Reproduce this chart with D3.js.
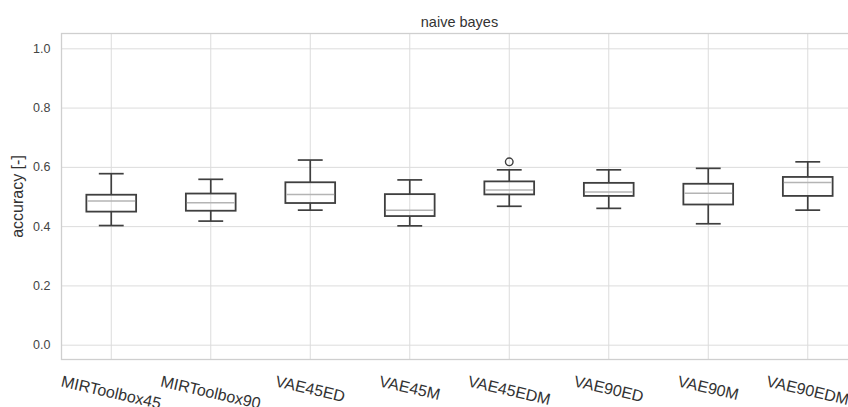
<!DOCTYPE html>
<html>
<head>
<meta charset="utf-8">
<script src="https://cdn.jsdelivr.net/npm/d3@7"></script>
<style>
  html, body { margin: 0; padding: 0; background: #fff; }
  svg { display: block; font-family: "Liberation Sans", Arial, sans-serif; }
</style>
</head>
<body>
<svg id="chart" width="848" height="407"></svg>
<script>
const categories = ["MIRToolbox45", "MIRToolbox90", "VAE45ED", "VAE45M", "VAE45EDM", "VAE90ED", "VAE90M", "VAE90EDM"];
const whiskerLow  = [0.402, 0.417, 0.454, 0.401, 0.467, 0.460, 0.408, 0.454];
const q1          = [0.449, 0.452, 0.478, 0.434, 0.507, 0.502, 0.473, 0.502];
const medians     = [0.485, 0.479, 0.507, 0.454, 0.522, 0.515, 0.511, 0.547];
const q3          = [0.506, 0.510, 0.548, 0.508, 0.551, 0.546, 0.543, 0.566];
const whiskerHigh = [0.577, 0.558, 0.623, 0.556, 0.590, 0.590, 0.595, 0.617];
const outliers    = [[], [], [], [], [0.617], [], [], []];
const yTicks = [0.0, 0.2, 0.4, 0.6, 0.8, 1.0];
const chartTitle = "naive bayes";
const yLabel = "accuracy [-]";

const svg = d3.select("#chart");
const pLeft = 61.5, pRight = 857.5, pTop = 33.5, pBottom = 359.5;

const x = d3.scaleBand().domain(categories).range([pLeft, pRight]).padding(0);
const y = d3.scaleLinear().domain([-0.05, 1.05]).range([pBottom, pTop]);
const bw = x.bandwidth();
const cx = c => x(c) + bw / 2;

const gridColor = "#dcdcdc";
const boxColor = "#3f3f3f";

// horizontal grid + y tick labels
const yAxis = d3.axisLeft(y).tickValues(yTicks).tickFormat(d3.format(".1f"))
  .tickSize(-(pRight - pLeft)).tickPadding(11);
const gy = svg.append("g").attr("transform", `translate(${pLeft},0)`).call(yAxis);
gy.select(".domain").remove();
gy.selectAll(".tick line").attr("stroke", gridColor).attr("stroke-width", 1);
gy.selectAll(".tick text").attr("fill", "#444").style("font-size", "12.5px")
  .style("font-family", "'Liberation Sans', Arial, sans-serif");

// vertical grid
const xAxis = d3.axisBottom(x).tickSize(-(pBottom - pTop)).tickFormat("");
const gx = svg.append("g").attr("transform", `translate(0,${pBottom})`).call(xAxis);
gx.select(".domain").remove();
gx.selectAll(".tick line").attr("stroke", gridColor).attr("stroke-width", 1);

// frame
svg.append("rect").attr("x", pLeft).attr("y", pTop)
  .attr("width", pRight - pLeft).attr("height", pBottom - pTop)
  .attr("fill", "none").attr("stroke", "#cfcfcf").attr("stroke-width", 1.3);

// boxes
const boxes = svg.append("g").selectAll("g").data(categories).join("g");
boxes.each(function(c, i) {
  const g = d3.select(this);
  const xc = cx(c);
  const hw = bw * 0.25, cw = bw * 0.125;
  g.append("line").attr("x1", xc).attr("x2", xc).attr("y1", y(q3[i])).attr("y2", y(whiskerHigh[i]))
    .attr("stroke", boxColor).attr("stroke-width", 1.7);
  g.append("line").attr("x1", xc).attr("x2", xc).attr("y1", y(q1[i])).attr("y2", y(whiskerLow[i]))
    .attr("stroke", boxColor).attr("stroke-width", 1.7);
  [whiskerHigh[i], whiskerLow[i]].forEach(v => {
    g.append("line").attr("x1", xc - cw).attr("x2", xc + cw).attr("y1", y(v)).attr("y2", y(v))
      .attr("stroke", boxColor).attr("stroke-width", 1.7);
  });
  g.append("rect").attr("x", xc - hw).attr("y", y(q3[i]))
    .attr("width", 2 * hw).attr("height", y(q1[i]) - y(q3[i]))
    .attr("fill", "none").attr("stroke", boxColor).attr("stroke-width", 1.8);
  g.append("line").attr("x1", xc - hw + 1).attr("x2", xc + hw - 1).attr("y1", y(medians[i])).attr("y2", y(medians[i]))
    .attr("stroke", "#b4b4b4").attr("stroke-width", 1.5);
  outliers[i].forEach(v => {
    g.append("circle").attr("cx", xc).attr("cy", y(v)).attr("r", 3.8)
      .attr("fill", "none").attr("stroke", boxColor).attr("stroke-width", 1.4);
  });
});

// x tick labels, rotated, top-aligned below axis
const angle = 13;
const rad = angle * Math.PI / 180;
const fs = 16;
svg.append("g").selectAll("text").data(categories).join("text")
  .text(d => d)
  .attr("fill", "#333")
  .style("font-size", fs + "px")
  .attr("text-anchor", "middle")
  .attr("dominant-baseline", "central")
  .each(function(d) {
    const L = this.getComputedTextLength();
    const H = L * Math.sin(rad) + fs * 1.0 * Math.cos(rad);
    const yc = 373 + H / 2;
    d3.select(this).attr("transform", `translate(${cx(d)},${yc}) rotate(${angle})`);
  });

// title
svg.append("text").attr("x", (pLeft + pRight) / 2).attr("y", 27)
  .attr("text-anchor", "middle").attr("fill", "#333").style("font-size", "14.5px")
  .text(chartTitle);

// y label
svg.append("text").attr("transform", `translate(23,${(pTop + pBottom) / 2}) rotate(-90)`)
  .attr("text-anchor", "middle").attr("fill", "#333").style("font-size", "16px")
  .text(yLabel);
</script>
</body>
</html>
